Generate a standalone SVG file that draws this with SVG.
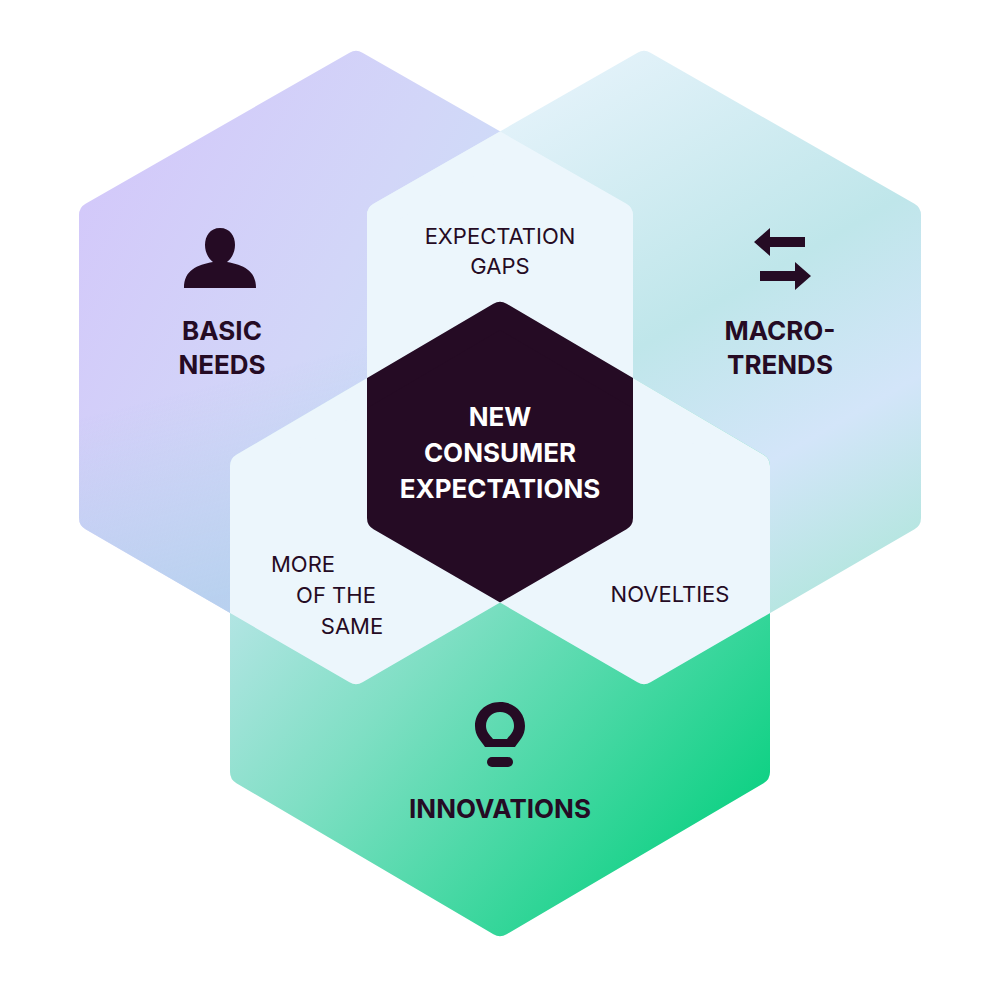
<svg xmlns="http://www.w3.org/2000/svg" xmlns:xlink="http://www.w3.org/1999/xlink" width="1000" height="1000" viewBox="0 0 1000 1000">
<style>
.h{stroke-width:26;stroke-linejoin:round}
.t{font-family:Inter,"Liberation Sans",sans-serif;fill:#250b24;text-anchor:middle}
.b{font-weight:700;font-size:26px}
.r{font-size:22px}
.w{fill:#ffffff}
.m{fill:#fff;stroke:#fff;stroke-width:26;stroke-linejoin:round}
</style>
<defs>
<path id="hA" d="M356,64 L620,215 L620,518 L356,671 L92,518 L92,215 Z"/>
<path id="hB" d="M644,64 L908,215 L908,518 L644,671 L380,518 L380,215 Z"/>
<path id="hC" d="M500,315 L757,466 L757,772 L500,923 L243,772 L243,466 Z"/>
<linearGradient id="gA" x1="0" y1="0" x2="1" y2="0.6">
<stop offset="0" stop-color="#d3c6fa"/><stop offset="0.5" stop-color="#d2d6f8"/><stop offset="1" stop-color="#c6e6f8"/></linearGradient>
<linearGradient id="gA2" gradientUnits="userSpaceOnUse" x1="150" y1="400" x2="200" y2="600">
<stop offset="0" stop-color="#b8d2ee" stop-opacity="0"/><stop offset="1" stop-color="#b6d0ee" stop-opacity="0.9"/></linearGradient>
<linearGradient id="gB" x1="0.3" y1="0" x2="0.8" y2="1">
<stop offset="0" stop-color="#e6f3fb"/><stop offset="0.45" stop-color="#bfe6ea"/><stop offset="0.7" stop-color="#d3e5f9"/><stop offset="1" stop-color="#a9e6d6"/></linearGradient>
<linearGradient id="gC" x1="0.1" y1="0.1" x2="0.9" y2="0.9">
<stop offset="0" stop-color="#cfe8f5"/><stop offset="0.45" stop-color="#7fdfc4"/><stop offset="1" stop-color="#0fd184"/></linearGradient>
<mask id="mA" maskUnits="userSpaceOnUse" x="0" y="0" width="1000" height="1000"><use xlink:href="#hA" class="m"/></mask>
<mask id="mB" maskUnits="userSpaceOnUse" x="0" y="0" width="1000" height="1000"><use xlink:href="#hB" class="m"/></mask>
</defs>
<g id="basic-needs">
<use xlink:href="#hA" class="h" fill="url(#gA)" stroke="url(#gA)"/>
<rect x="0" y="0" width="1000" height="1000" fill="url(#gA2)" mask="url(#mA)"/>
<path d="M220,228 c-10,0 -15,8 -15,17 c0,8 4,14 8,17 c-16,3 -29,8 -29,26 h72 c0,-18 -13,-23 -29,-26 c4,-3 8,-9 8,-17 c0,-9 -5,-17 -15,-17z" fill="#250b24"/>
<text class="t b" x="222" y="340">BASIC</text><text class="t b" x="222" y="374">NEEDS</text>
</g>
<g id="macro-trends">
<use xlink:href="#hB" class="h" fill="url(#gB)" stroke="url(#gB)"/>
<path d="M754,242 l16,-14 v9 h35 v10 h-35 v9 z M811,276 l-16,-14 v9 h-35 v10 h35 v9 z" fill="#250b24"/>
<text class="t b" x="780" y="340">MACRO-</text><text class="t b" x="780" y="374">TRENDS</text>
</g>
<g id="innovations">
<use xlink:href="#hC" class="h" fill="url(#gC)" stroke="url(#gC)"/>
<path d="M500,702 c-15,0 -25,11 -25,24 c0,10 6,15 10,21 h30 c4,-6 10,-11 10,-21 c0,-13 -10,-24 -25,-24z M500,712 c-8,0 -14,6 -14,14 c0,6 4,9 7,13 h14 c3,-4 7,-7 7,-13 c0,-8 -6,-14 -14,-14z" fill="#250b24" fill-rule="evenodd"/>
<rect x="487" y="757" width="26" height="10" rx="5" fill="#250b24"/>
<text class="t b" x="500" y="818">INNOVATIONS</text>
</g>
<g id="overlaps">
<g mask="url(#mA)"><use xlink:href="#hB" class="h" fill="#ecf6fc" stroke="#ecf6fc"/></g>
<g mask="url(#mA)"><use xlink:href="#hC" class="h" fill="#ecf6fc" stroke="#ecf6fc"/></g>
<g mask="url(#mB)"><use xlink:href="#hC" class="h" fill="#ecf6fc" stroke="#ecf6fc"/></g>
<text class="t r" x="500" y="244">EXPECTATION</text><text class="t r" x="500" y="274">GAPS</text>
<text class="t r" x="670" y="602">NOVELTIES</text>
<text class="t r" x="303" y="572">MORE</text><text class="t r" x="336" y="603">OF THE</text><text class="t r" x="352" y="634">SAME</text>
</g>
<g id="center">
<g mask="url(#mA)"><g mask="url(#mB)"><use xlink:href="#hC" class="h" fill="#250b24" stroke="#250b24"/></g></g>
<text class="t b w" x="500" y="426">NEW</text><text class="t b w" x="500" y="462">CONSUMER</text><text class="t b w" x="500" y="498">EXPECTATIONS</text>
</g>
</svg>
